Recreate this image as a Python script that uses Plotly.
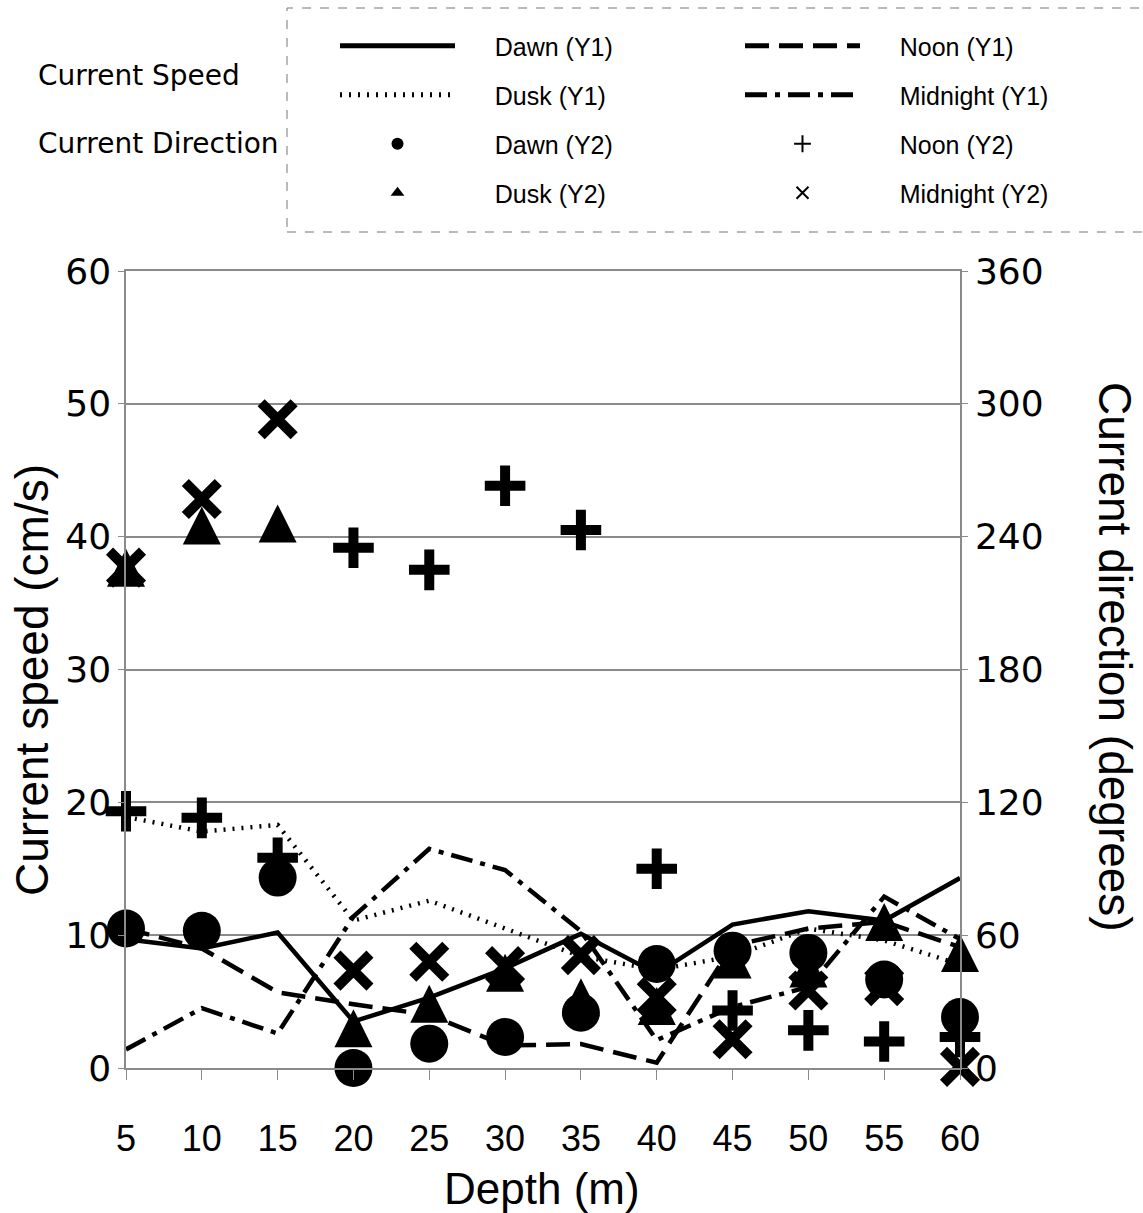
import plotly.graph_objects as go

# Depth of each measurement (m)
depth = [5, 10, 15, 20, 25, 30, 35, 40, 45, 50, 55, 60]

# Current speed (cm/s), left axis
speed_dawn = [9.7, 9.0, 10.2, 3.5, 5.3, 7.5, 10.1, 7.1, 10.8, 11.8, 11.1, 14.3]
speed_noon = [10.5, 9.0, 5.7, 4.8, 4.0, 1.7, 1.8, 0.4, 9.2, 10.5, 11.0, 9.1]
speed_dusk = [18.9, 17.8, 18.3, 11.1, 12.6, 10.5, 8.4, 7.4, 8.4, 10.5, 9.6, 7.8]
speed_midnight = [1.4, 4.5, 2.6, 11.4, 16.5, 14.9, 10.3, 2.1, 4.6, 6.1, 12.9, 9.7]

# Current direction (degrees), right axis
dir_dawn = [63, 62, 86, 0, 11, 14, 25, 47, 53, 52, 40, 23]
dir_noon = [116, 113, 95, 235, 225, 263, 243, 90, 26, 17, 12, 14]
dir_dusk = [226, 245, 246, 18, 29, 43, 32, 28, 49, 45, 66, 52]
dir_midnight = [226, 257, 293, 44, 48, 46, 51, 32, 13, 35, 37, 0.5]

y1_ticks = [0, 10, 20, 30, 40, 50, 60]
y2_ticks = [0, 60, 120, 180, 240, 300, 360]

W, H = 1143, 1213
L, R, T, B = 126, 183, 271, 145
PW, PH = W - L - R, H - T - B


def px_x(x):
    return (x - L) / PW


def px_y(y):
    return (H - B - y) / PH


TEXT = "Liberation Sans, Arial, sans-serif"
WIDE = "DejaVu Sans, Verdana, sans-serif"
PAD = "\u00a0" * 5
GRID = "#8a8a8a"

fig = go.Figure()

line_w = 4.5
speed_series = [
    ("Dawn (Y1)", speed_dawn, "solid", "legend"),
    ("Dusk (Y1)", speed_dusk, "2px,7px", "legend"),
    ("Noon (Y1)", speed_noon, "24px,10px", "legend2"),
    ("Midnight (Y1)", speed_midnight, "22px,8px,5px,8px", "legend2"),
]
for name, vals, dash, leg in speed_series:
    fig.add_trace(go.Scatter(
        x=depth, y=vals, mode="lines", name=PAD + name,
        line=dict(color="black", width=line_w, dash=dash),
        legend=leg, legendgroup=name, cliponaxis=False, yaxis="y",
    ))

# the upward triangle is an arrow-down marker turned half a turn and
# pushed back by half its height so that it sits centred on the point;
# its legend key uses a plain small triangle instead
tri_size = 38
dir_series = [
    ("Dawn (Y2)", dir_dawn, dict(symbol="circle", size=38, color="black"), "legend", None),
    ("Noon (Y2)", dir_noon, dict(symbol="cross-thin", size=29,
                                 line=dict(color="black", width=10)), "legend2", None),
    ("Dusk (Y2)", dir_dusk, dict(symbol="arrow-down", angle=180, size=tri_size,
                                 standoff=tri_size / 2, color="black"), "legend",
     dict(symbol="triangle-up", size=12, color="black")),
    ("Midnight (Y2)", dir_midnight, dict(symbol="x-thin", size=33,
                                         line=dict(color="black", width=10)), "legend2", None),
]
for name, vals, marker, leg, key_marker in dir_series:
    fig.add_trace(go.Scatter(
        x=depth, y=vals, mode="markers", name=PAD + name, marker=marker,
        legend=leg, legendgroup=name, cliponaxis=False, yaxis="y2",
        showlegend=key_marker is None,
    ))
    if key_marker is not None:
        fig.add_trace(go.Scatter(
            x=[None], y=[None], mode="markers", name=PAD + name,
            marker=key_marker, legend=leg, legendgroup=name, yaxis="y2",
        ))

legend_style = dict(
    bgcolor="rgba(0,0,0,0)", borderwidth=0, itemwidth=115,
    itemsizing="constant", tracegroupgap=13.5,
    font=dict(family=TEXT, size=25, color="black"),
    xanchor="left", yanchor="top", y=px_y(23),
)

fig.update_layout(
    width=W, height=H,
    margin=dict(l=L, r=R, t=T, b=B),
    paper_bgcolor="white", plot_bgcolor="white",
    showlegend=True,
    legend=dict(x=px_x(335), **legend_style),
    legend2=dict(x=px_x(740), **legend_style),
    xaxis=dict(
        range=[5, 60], tickvals=depth, ticks="outside", ticklen=10,
        tickcolor=GRID, showline=True, linecolor=GRID, linewidth=1.5,
        mirror=True, showgrid=False, zeroline=False,
        tickfont=dict(family=TEXT, size=36, color="black"),
        ticklabelstandoff=28,
    ),
    yaxis=dict(
        range=[0, 60], tickvals=y1_ticks, ticks="outside", ticklen=6,
        tickcolor=GRID, showline=True, linecolor=GRID, linewidth=1.5,
        showgrid=True, gridcolor=GRID, gridwidth=1.5, zeroline=False,
        tickfont=dict(family=WIDE, size=36, color="black"),
    ),
    yaxis2=dict(
        range=[0, 360], tickvals=y2_ticks, overlaying="y", side="right",
        ticks="outside", ticklen=6, tickcolor=GRID, showline=True,
        linecolor=GRID, linewidth=1.5, showgrid=False, zeroline=False,
        tickfont=dict(family=WIDE, size=36, color="black"),
    ),
    shapes=[dict(
        type="rect", xref="paper", yref="paper",
        x0=px_x(287), x1=px_x(1150), y0=px_y(232), y1=px_y(8),
        line=dict(color="#777777", width=1, dash="dash"),
    )],
    annotations=[
        dict(text="Current speed (cm/s)", xref="paper", yref="paper",
             x=px_x(32), y=px_y(680), textangle=-90, showarrow=False,
             xanchor="center", yanchor="middle",
             font=dict(family=TEXT, size=46, color="black")),
        dict(text="Current direction (degrees)", xref="paper", yref="paper",
             x=px_x(1115), y=px_y(657), textangle=90, showarrow=False,
             xanchor="center", yanchor="middle",
             font=dict(family=TEXT, size=46, color="black")),
        dict(text="Depth (m)", xref="paper", yref="paper",
             x=px_x(542), y=px_y(1188), showarrow=False,
             xanchor="center", yanchor="middle",
             font=dict(family=TEXT, size=44, color="black")),
        dict(text="Current Speed", xref="paper", yref="paper",
             x=px_x(36), y=px_y(75), showarrow=False,
             xanchor="left", yanchor="middle",
             font=dict(family=WIDE, size=28, color="black")),
        dict(text="Current Direction", xref="paper", yref="paper",
             x=px_x(36), y=px_y(143), showarrow=False,
             xanchor="left", yanchor="middle",
             font=dict(family=WIDE, size=28, color="black")),
    ],
)

fig.write_html("out.html")
